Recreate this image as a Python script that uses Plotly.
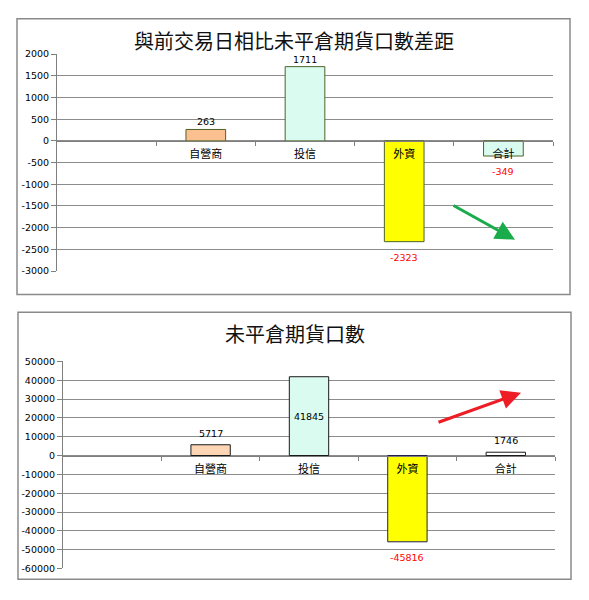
import plotly.graph_objects as go

W, H = 589, 600

categories = ["自營商", "投信", "外資", "合計"]

title_top = "與前交易日相比未平倉期貨口數差距"
diff_values = [263, 1711, -2323, -349]
top_colors = ["#FAC090", "#DAFBEF", "#FFFF00", "#DAFBEF"]
top_line = "#4F6228"
top_ticks = [2000, 1500, 1000, 500, 0, -500, -1000, -1500, -2000, -2500, -3000]

title_bot = "未平倉期貨口數"
oi_values = [5717, 41845, -45816, 1746]
bot_colors = ["#FCD5B4", "#DAFBEF", "#FFFF00", "#FFFFFF"]
bot_lines = ["#1A1A1A", "#1A1A1A", "#1F1F4F", "#1A1A1A"]
bot_ticks = [50000, 40000, 30000, 20000, 10000, 0, -10000, -20000, -30000,
             -40000, -50000, -60000]
bot_inside = [False, True, False, False]


def px(x):
    return x / W


def py(y):
    return 1 - y / H


# plot areas in pixels
top_x = [57, 553]
top_y = [49, 270]
bot_x = [63, 555]
bot_y = [362, 573]

fig = go.Figure()


def lab_color(v):
    return "#FF0000" if v < 0 else "#000000"


lab_family = "DejaVu Sans"
lab_size = 9.5

fig.add_trace(go.Bar(
    x=categories, y=diff_values, width=0.4,
    marker=dict(color=top_colors, line=dict(color=top_line, width=1)),
    cliponaxis=False, xaxis="x", yaxis="y", showlegend=False,
))

fig.add_trace(go.Bar(
    x=categories, y=oi_values, width=0.4,
    marker=dict(color=bot_colors, line=dict(color=bot_lines, width=1)),
    text=[str(v) if ins else "" for v, ins in zip(oi_values, bot_inside)],
    textposition="inside", insidetextanchor="middle",
    textfont=dict(family=lab_family, size=lab_size, color="#000000"),
    cliponaxis=False, xaxis="x2", yaxis="y2", showlegend=False,
))


def add_labels(vals, xref, yref, pos_gap, neg_gap, skip=None):
    for i, (c, v) in enumerate(zip(categories, vals)):
        if skip and skip[i]:
            continue
        neg = v < 0
        fig.add_annotation(
            x=c, y=v, xref=xref, yref=yref, text=str(v), showarrow=False,
            yanchor="top" if neg else "bottom",
            yshift=-neg_gap if neg else pos_gap,
            font=dict(family=lab_family, size=lab_size, color=lab_color(v)),
        )


add_labels(diff_values, "x", "y", 0, 8)
add_labels(oi_values, "x2", "y2", 4, 8, skip=bot_inside)


def zero_pos(ydom, rng):
    return ydom[0] + (0 - rng[0]) / (rng[1] - rng[0]) * (ydom[1] - ydom[0])


top_ydom = [py(top_y[1]), py(top_y[0])]
bot_ydom = [py(bot_y[1]), py(bot_y[0])]
top_range = [min(top_ticks), max(top_ticks)]
bot_range = [min(bot_ticks), max(bot_ticks)]

grid_col = "#8C8C8C"
axis_col = "#7F7F7F"

xcommon = dict(
    type="category", range=[-1.5, 3.5], tickson="boundaries",
    ticks="outside", ticklen=4, tickcolor=axis_col,
    showline=True, linecolor=axis_col, linewidth=1,
    showgrid=False, anchor="free", ticklabelstandoff=3,
    tickfont=dict(family="Noto Sans CJK TC", size=11, color="#000000"),
    fixedrange=True,
)
ycommon = dict(
    showline=True, linecolor=axis_col, linewidth=1,
    ticks="outside", ticklen=5, tickcolor=axis_col,
    showgrid=True, gridcolor=grid_col, gridwidth=1,
    zeroline=False,
    tickfont=dict(family="DejaVu Sans", size=9.5, color="#000000"),
    fixedrange=True,
)

fig.update_layout(
    width=W, height=H,
    margin=dict(l=0, r=0, t=0, b=0),
    paper_bgcolor="white", plot_bgcolor="white",
    xaxis=dict(domain=[px(top_x[0]), px(top_x[1])],
               position=zero_pos(top_ydom, top_range), **xcommon),
    yaxis=dict(domain=top_ydom, range=top_range,
               tickvals=top_ticks, ticktext=[str(v) for v in top_ticks],
               anchor="x", **ycommon),
    xaxis2=dict(domain=[px(bot_x[0]), px(bot_x[1])],
                position=zero_pos(bot_ydom, bot_range), **xcommon),
    yaxis2=dict(domain=bot_ydom, range=bot_range,
                tickvals=bot_ticks, ticktext=[str(v) for v in bot_ticks],
                anchor="x2", **ycommon),
)

# panel borders
for (x0, y0, x1, y1) in [(17, 13, 570, 294), (18, 312, 571, 584)]:
    fig.add_shape(type="rect", xref="paper", yref="paper",
                  x0=px(x0), x1=px(x1), y0=py(y1), y1=py(y0),
                  line=dict(color="#8A8A8A", width=1.5), layer="below")

# titles
title_font = dict(family="Noto Sans CJK TC", size=20, color="#111111")
fig.add_annotation(text=title_top, xref="paper", yref="paper",
                   x=px(294), y=py(35), showarrow=False, font=title_font,
                   xanchor="center", yanchor="middle")
fig.add_annotation(text=title_bot, xref="paper", yref="paper",
                   x=px(295), y=py(334), showarrow=False, font=title_font,
                   xanchor="center", yanchor="middle")

# arrows
fig.add_annotation(x=px(515), y=py(238), xref="paper", yref="paper",
                   ax=-63, ay=-35, text="", showarrow=True,
                   arrowhead=2, arrowsize=1.3, arrowwidth=3,
                   arrowcolor="#1AAB4B")
fig.add_annotation(x=px(521), y=py(394), xref="paper", yref="paper",
                   ax=-84, ay=30, text="", showarrow=True,
                   arrowhead=2, arrowsize=1.3, arrowwidth=3,
                   arrowcolor="#EE1C25")

fig.write_html("out.html", config={"displayModeBar": False},
               post_script="document.body.style.margin='0';"
                           "document.body.style.padding='0';")
